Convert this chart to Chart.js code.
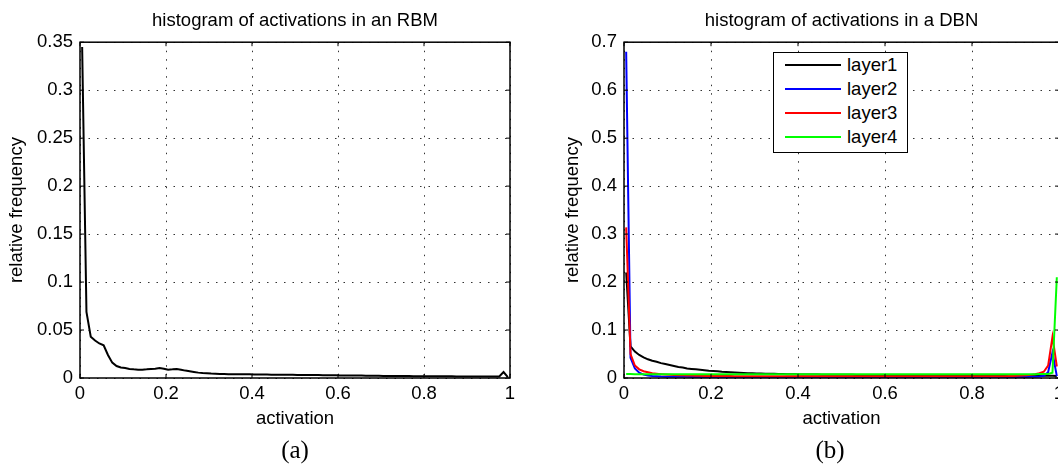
<!DOCTYPE html>
<html>
<head>
<meta charset="utf-8">
<script src="https://cdn.jsdelivr.net/npm/chart.js@4"></script>
<style>
  body { margin: 0; width: 1058px; height: 470px; overflow: hidden; background: #fff; position: relative; font-family: "Liberation Sans", Arial, sans-serif; }
  canvas { position: absolute; top: 0; }
  #legend { position: absolute; left: 773px; top: 52px; width: 135px; height: 101px; box-sizing: border-box; border: 1.5px solid #000; background: #fff; z-index: 2; }
  #legend .row { height: 24px; display: flex; align-items: center; font-size: 18.5px; color: #000; }
  #legend .swatch { display: inline-block; width: 56px; height: 2.5px; margin-left: 11px; margin-right: 6px; }
  .cap { position: absolute; top: 436px; width: 100px; height: 28px; line-height: 28px; text-align: center; font-family: "Liberation Serif", "DejaVu Serif", serif; font-size: 25px; color: #000; }
</style>
</head>
<body>
<canvas id="rbm" width="530" height="438" style="left:0"></canvas>
<canvas id="dbn" width="530" height="438" style="left:544px"></canvas>
<div id="legend"></div>
<div class="cap" style="left:245px">(a)</div>
<div class="cap" style="left:780px">(b)</div>
<script>
// histogram bin centres (100 bins on [0,1])
const binCenters = [
  0.005, 0.015, 0.025, 0.035, 0.045, 0.055, 0.065, 0.075, 0.085, 0.095,
  0.105, 0.115, 0.125, 0.135, 0.145, 0.155, 0.165, 0.175, 0.185, 0.195,
  0.205, 0.215, 0.225, 0.235, 0.245, 0.255, 0.265, 0.275, 0.285, 0.295,
  0.305, 0.315, 0.325, 0.335, 0.345, 0.355, 0.365, 0.375, 0.385, 0.395,
  0.405, 0.415, 0.425, 0.435, 0.445, 0.455, 0.465, 0.475, 0.485, 0.495,
  0.505, 0.515, 0.525, 0.535, 0.545, 0.555, 0.565, 0.575, 0.585, 0.595,
  0.605, 0.615, 0.625, 0.635, 0.645, 0.655, 0.665, 0.675, 0.685, 0.695,
  0.705, 0.715, 0.725, 0.735, 0.745, 0.755, 0.765, 0.775, 0.785, 0.795,
  0.805, 0.815, 0.825, 0.835, 0.845, 0.855, 0.865, 0.875, 0.885, 0.895,
  0.905, 0.915, 0.925, 0.935, 0.945, 0.955, 0.965, 0.975, 0.985, 0.995
];

// (a) RBM
const rbmFreq = [
  0.345, 0.069, 0.043, 0.039, 0.036, 0.034, 0.024, 0.016, 0.0125, 0.011,
  0.0104, 0.0094, 0.009, 0.0087, 0.0087, 0.009, 0.0094, 0.0097, 0.0104, 0.0097,
  0.0087, 0.009, 0.0094, 0.0087, 0.0077, 0.007, 0.0063, 0.0056, 0.0052, 0.0049,
  0.0046, 0.0044, 0.0042, 0.0041, 0.004, 0.004, 0.0039, 0.0039, 0.0038, 0.0038,
  0.0037, 0.0037, 0.0036, 0.0036, 0.0035, 0.0035, 0.0034, 0.0034, 0.0033, 0.0033,
  0.0032, 0.0032, 0.0031, 0.0031, 0.003, 0.003, 0.0029, 0.0029, 0.0028, 0.0028,
  0.0027, 0.0027, 0.0026, 0.0026, 0.0025, 0.0025, 0.0024, 0.0024, 0.0023, 0.0023,
  0.0022, 0.0022, 0.0021, 0.0021, 0.002, 0.002, 0.002, 0.0019, 0.0019, 0.0019,
  0.0018, 0.0018, 0.0018, 0.0017, 0.0017, 0.0017, 0.0017, 0.0016, 0.0016, 0.0016,
  0.0016, 0.0016, 0.0015, 0.0015, 0.0015, 0.0015, 0.0015, 0.0016, 0.0062, 0.0008
];

// (b) DBN, one series per layer
const layer1 = [
  0.22, 0.066, 0.055, 0.048, 0.043, 0.039, 0.036, 0.034, 0.031, 0.029,
  0.027, 0.025, 0.023, 0.022, 0.02, 0.019, 0.018, 0.017, 0.016, 0.015,
  0.0145, 0.014, 0.013, 0.0125, 0.012, 0.0115, 0.011, 0.0105, 0.01, 0.0098,
  0.0095, 0.0092, 0.009, 0.0088, 0.0086, 0.0084, 0.0082, 0.008, 0.0078, 0.0076,
  0.0075, 0.0074, 0.0073, 0.0072, 0.0071, 0.007, 0.0069, 0.0068, 0.0068, 0.0067,
  0.0067, 0.0066, 0.0066, 0.0065, 0.0065, 0.0064, 0.0064, 0.0063, 0.0063, 0.0062,
  0.0062, 0.0062, 0.0061, 0.0061, 0.0061, 0.006, 0.006, 0.006, 0.0059, 0.0059,
  0.0059, 0.0058, 0.0058, 0.0058, 0.0057, 0.0057, 0.0057, 0.0056, 0.0056, 0.0056,
  0.0055, 0.0055, 0.0055, 0.0054, 0.0054, 0.0054, 0.0053, 0.0053, 0.0053, 0.0052,
  0.0052, 0.0051, 0.005, 0.0049, 0.0048, 0.0047, 0.0046, 0.0046, 0.0048, 0.004
];
const layer2 = [
  0.68, 0.042, 0.02, 0.011, 0.007, 0.005, 0.004, 0.0035, 0.003, 0.0028,
  0.0027, 0.0026, 0.0025, 0.0024, 0.0024, 0.0023, 0.0023, 0.0022, 0.0022, 0.0022,
  0.0021, 0.0021, 0.0021, 0.0021, 0.0021, 0.0021, 0.0021, 0.0021, 0.0021, 0.0021,
  0.002, 0.002, 0.002, 0.002, 0.002, 0.002, 0.002, 0.002, 0.002, 0.002,
  0.002, 0.002, 0.002, 0.002, 0.002, 0.002, 0.002, 0.002, 0.002, 0.002,
  0.002, 0.002, 0.002, 0.002, 0.002, 0.002, 0.002, 0.002, 0.002, 0.002,
  0.002, 0.002, 0.002, 0.002, 0.002, 0.002, 0.002, 0.002, 0.002, 0.002,
  0.002, 0.002, 0.002, 0.002, 0.002, 0.002, 0.002, 0.002, 0.002, 0.002,
  0.002, 0.002, 0.002, 0.002, 0.002, 0.002, 0.002, 0.002, 0.002, 0.002,
  0.002, 0.0021, 0.0022, 0.0024, 0.0027, 0.0032, 0.0045, 0.012, 0.053, 0.004
];
const layer3 = [
  0.314, 0.05, 0.026, 0.018, 0.014, 0.012, 0.01, 0.009, 0.008, 0.0072,
  0.0066, 0.0062, 0.0058, 0.0055, 0.0052, 0.005, 0.0048, 0.0046, 0.0044, 0.0043,
  0.0042, 0.0041, 0.0041, 0.004, 0.004, 0.0039, 0.0039, 0.0039, 0.0038, 0.0038,
  0.0038, 0.0037, 0.0037, 0.0037, 0.0037, 0.0036, 0.0036, 0.0036, 0.0036, 0.0036,
  0.0035, 0.0035, 0.0035, 0.0035, 0.0035, 0.0035, 0.0035, 0.0035, 0.0035, 0.0035,
  0.0035, 0.0035, 0.0035, 0.0035, 0.0035, 0.0035, 0.0035, 0.0035, 0.0035, 0.0035,
  0.0035, 0.0035, 0.0035, 0.0035, 0.0035, 0.0035, 0.0035, 0.0035, 0.0035, 0.0035,
  0.0035, 0.0035, 0.0035, 0.0035, 0.0035, 0.0035, 0.0035, 0.0035, 0.0035, 0.0035,
  0.0035, 0.0035, 0.0035, 0.0036, 0.0036, 0.0037, 0.0038, 0.0039, 0.0041, 0.0043,
  0.0046, 0.005, 0.0056, 0.0065, 0.0078, 0.0098, 0.013, 0.026, 0.086, 0.024
];
const layer4 = [
  0.0082, 0.0081, 0.008, 0.008, 0.008, 0.008, 0.008, 0.008, 0.008, 0.008,
  0.008, 0.008, 0.008, 0.008, 0.008, 0.008, 0.008, 0.008, 0.008, 0.008,
  0.008, 0.008, 0.008, 0.008, 0.008, 0.008, 0.008, 0.008, 0.008, 0.008,
  0.008, 0.008, 0.008, 0.008, 0.008, 0.008, 0.008, 0.008, 0.008, 0.008,
  0.008, 0.008, 0.008, 0.008, 0.008, 0.008, 0.008, 0.008, 0.008, 0.008,
  0.008, 0.008, 0.008, 0.008, 0.008, 0.008, 0.008, 0.008, 0.008, 0.008,
  0.008, 0.008, 0.008, 0.008, 0.008, 0.008, 0.008, 0.008, 0.008, 0.008,
  0.008, 0.008, 0.008, 0.008, 0.008, 0.008, 0.008, 0.008, 0.008, 0.008,
  0.008, 0.008, 0.008, 0.008, 0.008, 0.008, 0.008, 0.008, 0.008, 0.008,
  0.008, 0.008, 0.008, 0.008, 0.008, 0.0081, 0.0082, 0.0085, 0.011, 0.21
];

const dbnLabels = ['layer1', 'layer2', 'layer3', 'layer4'];
const dbnColors = ['#000000', '#0000ff', '#ff0000', '#00ff00'];
const dbnSeries = [layer1, layer2, layer3, layer4];

const xTicks = [0, 0.2, 0.4, 0.6, 0.8, 1];
const rbmYTicks = [0, 0.05, 0.1, 0.15, 0.2, 0.25, 0.3, 0.35];
const dbnYTicks = [0, 0.1, 0.2, 0.3, 0.4, 0.5, 0.6, 0.7];

Chart.defaults.color = '#000';
Chart.defaults.font.family = '"Liberation Sans", Arial, sans-serif';
Chart.defaults.font.size = 18.5;

const points = vals => vals.map((v, i) => ({ x: binCenters[i], y: v }));

// matlab-style box with inward tick marks
const boxPlugin = {
  id: 'box',
  afterDraw(chart) {
    const { ctx, chartArea: a, scales: { x, y } } = chart;
    ctx.save();
    ctx.strokeStyle = '#000';
    ctx.lineWidth = 1;
    ctx.beginPath();
    x.ticks.forEach(t => {
      const p = x.getPixelForValue(t.value);
      ctx.moveTo(p, a.bottom); ctx.lineTo(p, a.bottom - 4);
      ctx.moveTo(p, a.top); ctx.lineTo(p, a.top + 4);
    });
    y.ticks.forEach(t => {
      const p = y.getPixelForValue(t.value);
      ctx.moveTo(a.left, p); ctx.lineTo(a.left + 4, p);
      ctx.moveTo(a.right, p); ctx.lineTo(a.right - 4, p);
    });
    ctx.stroke();
    ctx.lineWidth = 1.5;
    ctx.strokeRect(a.left, a.top, a.right - a.left, a.bottom - a.top);
    ctx.restore();
  }
};

function makeOptions(title, yMax, yTicks, yTitlePad, padRight) {
  return {
    responsive: false,
    animation: false,
    layout: { padding: { left: 0, right: padRight, top: 0, bottom: 0 } },
    elements: { point: { radius: 0 }, line: { borderWidth: 2, tension: 0 } },
    plugins: {
      legend: { display: false },
      tooltip: { enabled: false },
      title: {
        display: true,
        text: title,
        fullSize: false,
        color: '#000',
        font: { size: 18.5, weight: 'normal' },
        padding: { top: 10, bottom: 10 }
      }
    },
    scales: {
      x: {
        type: 'linear',
        min: 0,
        max: 1,
        afterBuildTicks: s => { s.ticks = xTicks.map(v => ({ value: v })); },
        afterFit: s => { s.height = 60; },
        ticks: { padding: 5, font: { size: 18.5 }, callback: v => String(v) },
        grid: { color: '#333', lineWidth: 1, drawTicks: false },
        border: { display: false, dash: [1.5, 7] },
        title: { display: true, text: 'activation', font: { size: 18.5 }, padding: { top: 0, bottom: 8 } }
      },
      y: {
        min: 0,
        max: yMax,
        afterBuildTicks: s => { s.ticks = yTicks.map(v => ({ value: v })); },
        afterFit: s => { s.width = 80; },
        ticks: { padding: 7, font: { size: 18.5 }, callback: v => String(v) },
        grid: { color: '#333', lineWidth: 1, drawTicks: false },
        border: { display: false, dash: [1.5, 7] },
        title: { display: true, text: 'relative frequency', font: { size: 18.5 }, padding: { top: yTitlePad, bottom: 0 } }
      }
    }
  };
}

new Chart(document.getElementById('rbm'), {
  type: 'line',
  data: {
    datasets: [{
      label: 'RBM',
      data: points(rbmFreq),
      borderColor: '#000',
      backgroundColor: '#000'
    }]
  },
  options: makeOptions('histogram of activations in an RBM', 0.35, rbmYTicks, 6, 20),
  plugins: [boxPlugin]
});

new Chart(document.getElementById('dbn'), {
  type: 'line',
  data: {
    datasets: dbnSeries.map((s, i) => ({
      label: dbnLabels[i],
      data: points(s),
      borderColor: dbnColors[i],
      backgroundColor: dbnColors[i],
      order: dbnSeries.length - 1 - i
    }))
  },
  options: makeOptions('histogram of activations in a DBN', 0.7, dbnYTicks, 18, 15),
  plugins: [boxPlugin]
});

// legend box inside the DBN axes
const legend = document.getElementById('legend');
dbnLabels.forEach((name, i) => {
  const row = document.createElement('div');
  row.className = 'row';
  const sw = document.createElement('span');
  sw.className = 'swatch';
  sw.style.background = dbnColors[i];
  row.appendChild(sw);
  row.appendChild(document.createTextNode(name));
  legend.appendChild(row);
});
</script>
</body>
</html>
